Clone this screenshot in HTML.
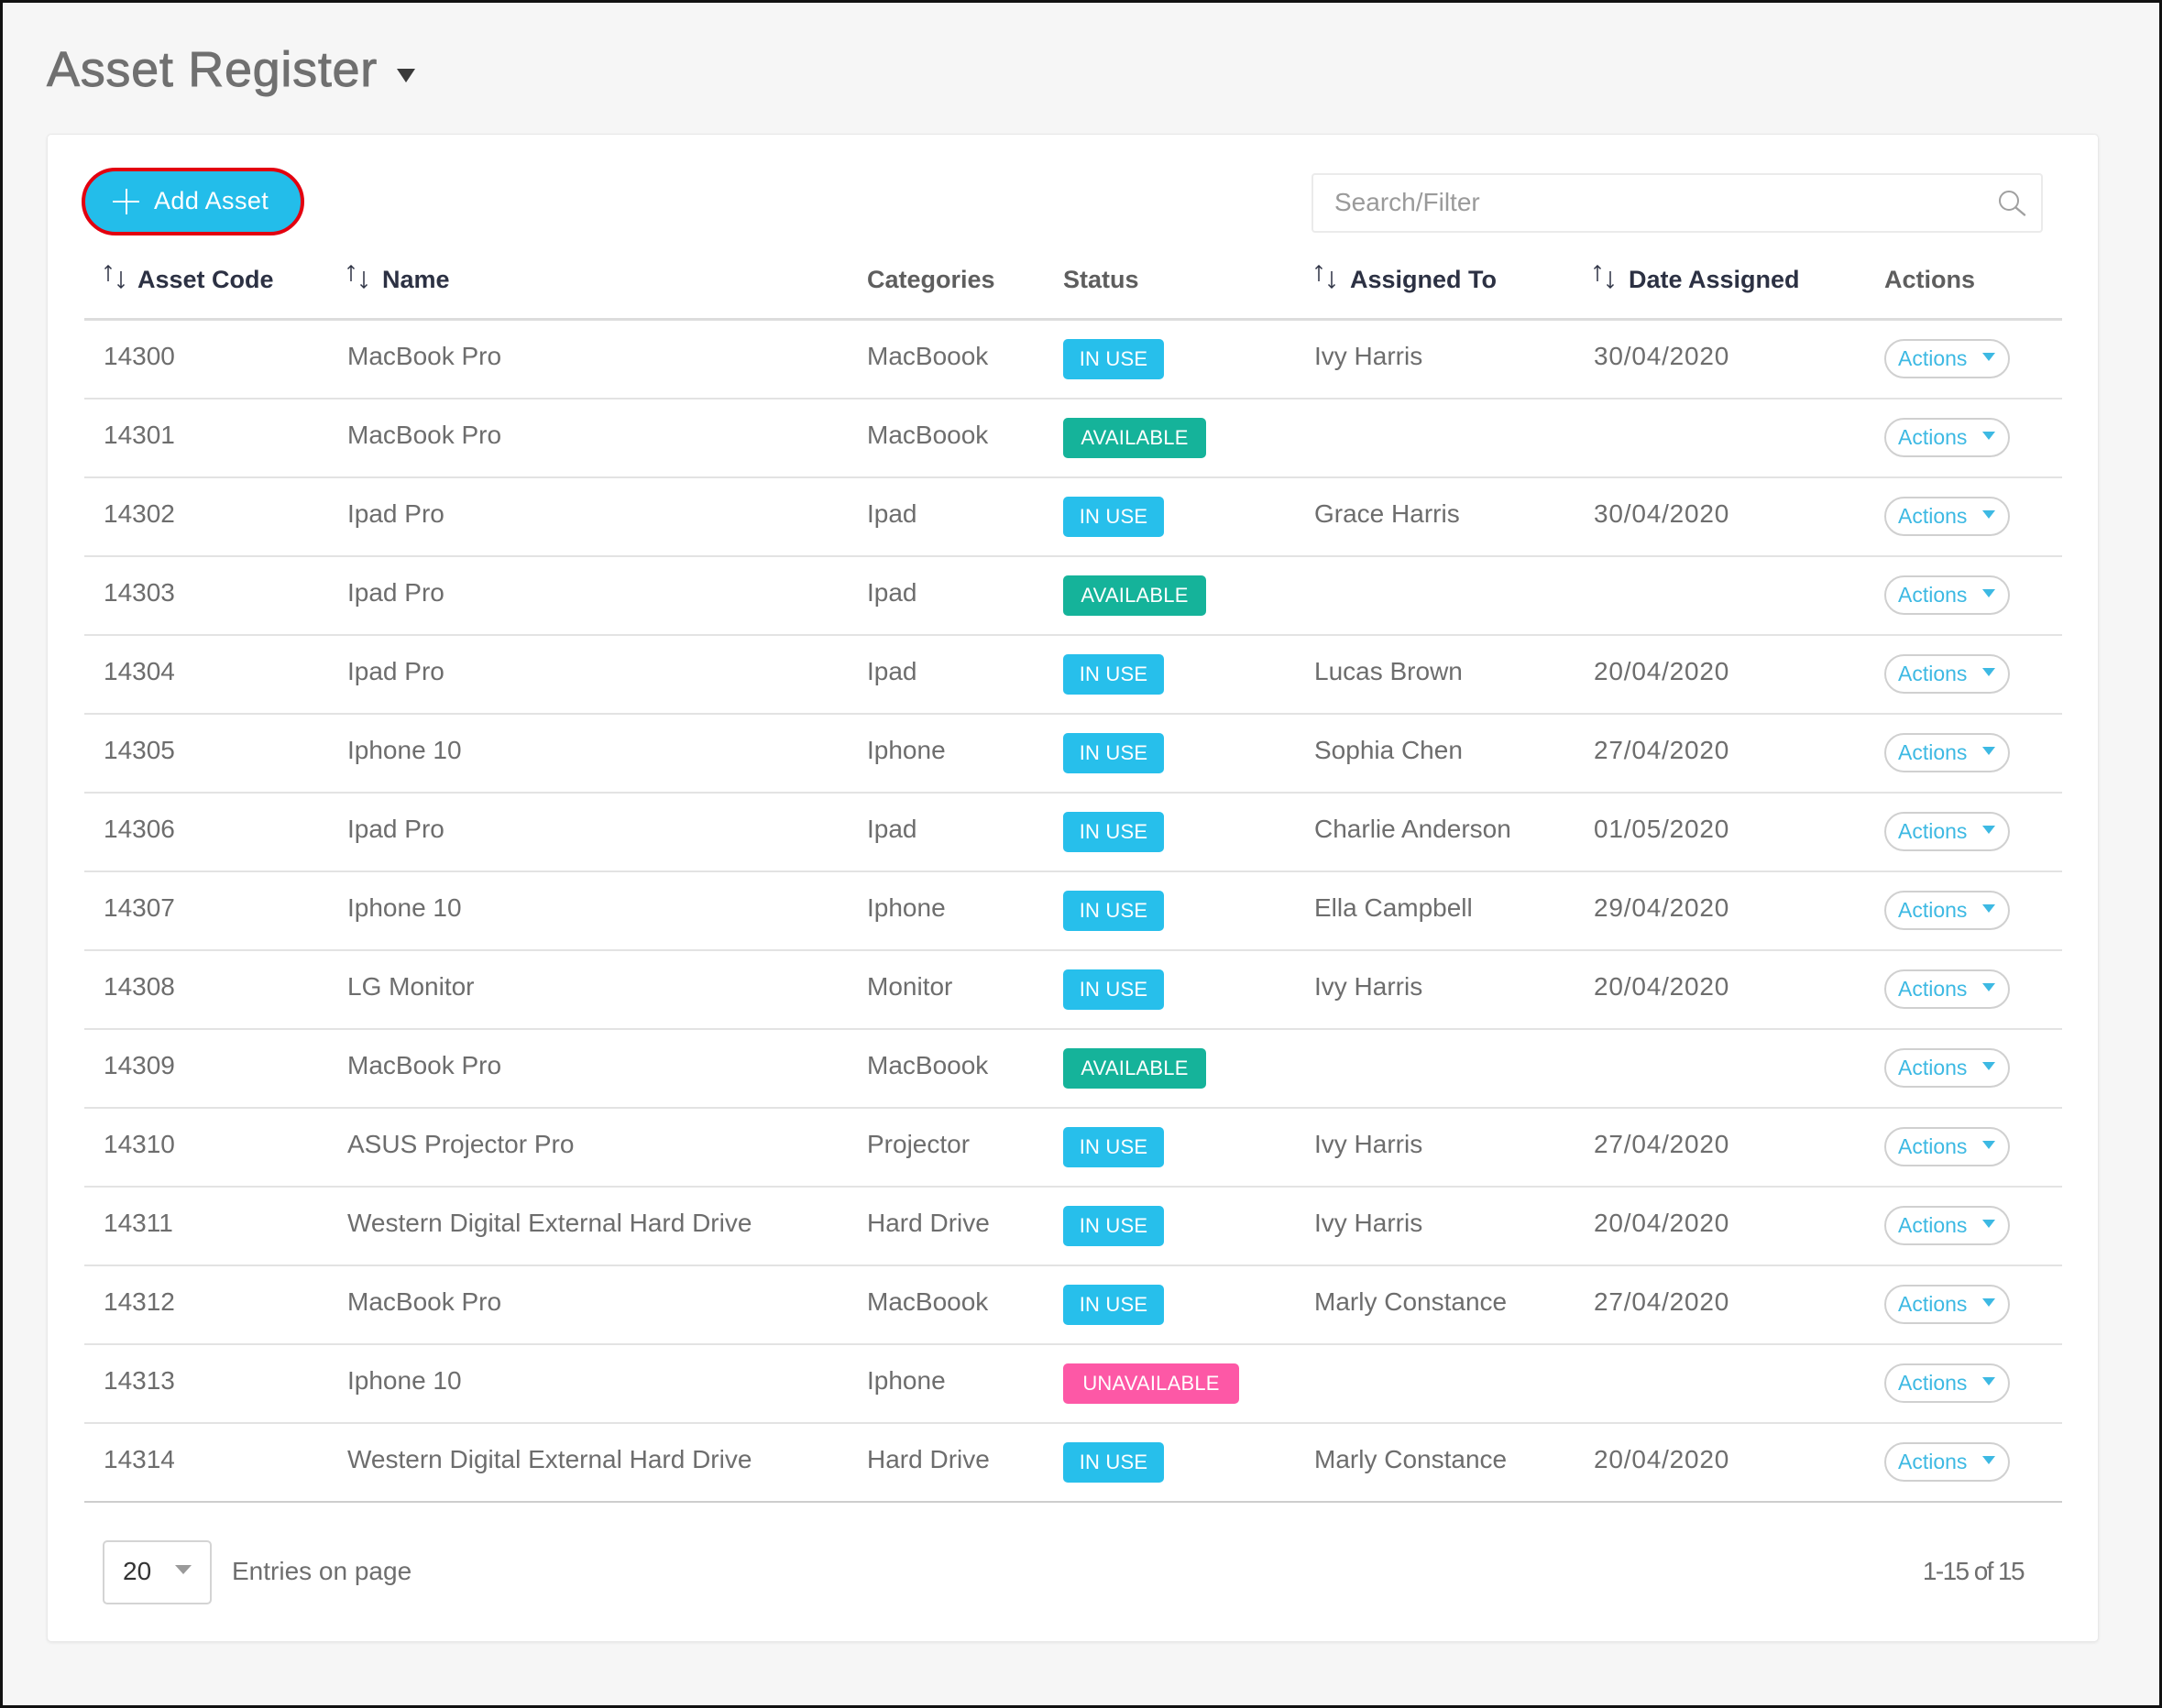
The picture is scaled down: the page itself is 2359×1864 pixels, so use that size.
<!DOCTYPE html>
<html>
<head>
<meta charset="utf-8">
<style>
  html,body{margin:0;padding:0;}
  body{width:2359px;height:1864px;position:relative;overflow:hidden;background:#f6f6f6;font-family:"Liberation Sans",Arial,sans-serif;}
  .frame{position:absolute;left:0;top:0;width:2359px;height:1864px;box-sizing:border-box;border:3px solid #111;}
  .title{position:absolute;left:51px;top:46px;height:60px;line-height:60px;font-size:54px;color:#707070;letter-spacing:0.7px;-webkit-text-stroke:0.9px #707070;white-space:nowrap;}
  .caret{position:absolute;left:433px;top:75px;width:0;height:0;border-left:10px solid transparent;border-right:10px solid transparent;border-top:15px solid #3a3a3a;}
  .card{position:absolute;left:51px;top:146px;width:2239px;height:1646px;box-sizing:border-box;background:#fff;border:1px solid #e9e9e9;border-radius:5px;box-shadow:0 1px 3px rgba(0,0,0,0.07);}
  .addbtn{position:absolute;left:89px;top:183px;width:243px;height:74px;box-sizing:border-box;border:4px solid #e3000f;border-radius:37px;background:#23bdea;}
  .addtxt{position:absolute;left:168px;top:186px;height:66px;line-height:66px;font-size:27px;color:#fff;letter-spacing:0.4px;white-space:nowrap;}
  .plush{position:absolute;left:123px;top:219px;width:29px;height:2px;background:#fff;}
  .plusv{position:absolute;left:137px;top:206px;width:2px;height:28px;background:#fff;}
  .search{position:absolute;left:1431px;top:189px;width:798px;height:65px;box-sizing:border-box;border:2px solid #ebebeb;border-radius:4px;background:#fff;}
  .ph{position:absolute;left:1456px;top:190px;height:61px;line-height:61px;font-size:28px;color:#9a9a9a;white-space:nowrap;}
  .hd{position:absolute;top:285px;height:40px;line-height:40px;font-size:27px;font-weight:bold;white-space:nowrap;}
  .navy{color:#2c3143;}
  .gray{color:#5e5e5e;}
  .sort{position:absolute;top:289px;width:26px;height:26px;}
  .hline{position:absolute;left:92px;top:347px;width:2158px;height:3px;background:#dcdcdc;}
  .row{position:absolute;left:92px;width:2158px;height:84px;border-bottom:2px solid #e3e3e3;}
  .row.last{border-bottom:2px solid #cdcdcd;}
  .c{position:absolute;top:0;height:78px;line-height:78px;font-size:28px;color:#6d6d6d;white-space:nowrap;}
  .d{letter-spacing:0.8px;}
  .b{position:absolute;left:1068px;top:20px;height:44px;line-height:44px;border-radius:5px;color:#fff;font-size:22px;text-align:center;white-space:nowrap;letter-spacing:0.2px;}
  .inuse{width:110px;background:#27bfeb;}
  .avail{width:156px;background:#15b39a;}
  .unav{width:192px;background:#fd58a6;}
  .act{position:absolute;left:1964px;top:20px;width:137px;height:43px;box-sizing:border-box;border:2px solid #d0d0d0;border-radius:22px;}
  .act span{position:absolute;left:13px;top:0;height:39px;line-height:39px;font-size:23px;color:#3db9e3;white-space:nowrap;}
  .act i{position:absolute;left:105px;top:13px;width:0;height:0;border-left:7px solid transparent;border-right:7px solid transparent;border-top:9px solid #3db9e3;}
  .sel{position:absolute;left:112px;top:1681px;width:119px;height:70px;box-sizing:border-box;border:2px solid #d4d4d4;border-radius:5px;background:#fff;}
  .ft{position:absolute;top:1680px;height:70px;line-height:70px;font-size:28px;white-space:nowrap;}
  .selcaret{position:absolute;left:191px;top:1708px;width:0;height:0;border-left:9px solid transparent;border-right:9px solid transparent;border-top:10px solid #9a9a9a;}
</style>
</head>
<body>
<div class="frame"></div>

<div class="title">Asset Register</div>
<div class="caret"></div>

<div class="card"></div>

<div class="addbtn"></div>
<div class="plush"></div>
<div class="plusv"></div>
<div class="addtxt">Add Asset</div>

<div class="search"></div>
<div class="ph">Search/Filter</div>
<svg style="position:absolute;left:2180px;top:206px" width="34" height="32" viewBox="0 0 34 32">
  <circle cx="12" cy="13" r="10" fill="none" stroke="#a0a0a0" stroke-width="2"/>
  <line x1="19.5" y1="20.5" x2="29" y2="28.5" stroke="#a0a0a0" stroke-width="2.4" stroke-linecap="round"/>
</svg>

<!-- header -->
<svg class="sort" style="left:113px" viewBox="0 0 26 26"><g stroke="#2c3143" stroke-width="1.5" fill="none"><line x1="5" y1="1" x2="5" y2="18"/><polyline points="1.5,4.5 5,1 8.5,4.5"/><line x1="19" y1="7" x2="19" y2="25"/><polyline points="15.5,21.5 19,25 22.5,21.5"/></g></svg>
<div class="hd navy" style="left:150px">Asset Code</div>
<svg class="sort" style="left:378px" viewBox="0 0 26 26"><g stroke="#2c3143" stroke-width="1.5" fill="none"><line x1="5" y1="1" x2="5" y2="18"/><polyline points="1.5,4.5 5,1 8.5,4.5"/><line x1="19" y1="7" x2="19" y2="25"/><polyline points="15.5,21.5 19,25 22.5,21.5"/></g></svg>
<div class="hd navy" style="left:417px">Name</div>
<div class="hd gray" style="left:946px">Categories</div>
<div class="hd gray" style="left:1160px">Status</div>
<svg class="sort" style="left:1434px" viewBox="0 0 26 26"><g stroke="#2c3143" stroke-width="1.5" fill="none"><line x1="5" y1="1" x2="5" y2="18"/><polyline points="1.5,4.5 5,1 8.5,4.5"/><line x1="19" y1="7" x2="19" y2="25"/><polyline points="15.5,21.5 19,25 22.5,21.5"/></g></svg>
<div class="hd navy" style="left:1473px">Assigned To</div>
<svg class="sort" style="left:1738px" viewBox="0 0 26 26"><g stroke="#2c3143" stroke-width="1.5" fill="none"><line x1="5" y1="1" x2="5" y2="18"/><polyline points="1.5,4.5 5,1 8.5,4.5"/><line x1="19" y1="7" x2="19" y2="25"/><polyline points="15.5,21.5 19,25 22.5,21.5"/></g></svg>
<div class="hd navy" style="left:1777px">Date Assigned</div>
<div class="hd gray" style="left:2056px">Actions</div>
<div class="hline"></div>

<!-- rows -->
<div class="row" style="top:350px">
  <div class="c" style="left:21px">14300</div><div class="c" style="left:287px">MacBook Pro</div><div class="c" style="left:854px">MacBoook</div>
  <div class="b inuse">IN USE</div><div class="c" style="left:1342px">Ivy Harris</div><div class="c d" style="left:1647px">30/04/2020</div>
  <div class="act"><span>Actions</span><i></i></div>
</div>
<div class="row" style="top:436px">
  <div class="c" style="left:21px">14301</div><div class="c" style="left:287px">MacBook Pro</div><div class="c" style="left:854px">MacBoook</div>
  <div class="b avail">AVAILABLE</div>
  <div class="act"><span>Actions</span><i></i></div>
</div>
<div class="row" style="top:522px">
  <div class="c" style="left:21px">14302</div><div class="c" style="left:287px">Ipad Pro</div><div class="c" style="left:854px">Ipad</div>
  <div class="b inuse">IN USE</div><div class="c" style="left:1342px">Grace Harris</div><div class="c d" style="left:1647px">30/04/2020</div>
  <div class="act"><span>Actions</span><i></i></div>
</div>
<div class="row" style="top:608px">
  <div class="c" style="left:21px">14303</div><div class="c" style="left:287px">Ipad Pro</div><div class="c" style="left:854px">Ipad</div>
  <div class="b avail">AVAILABLE</div>
  <div class="act"><span>Actions</span><i></i></div>
</div>
<div class="row" style="top:694px">
  <div class="c" style="left:21px">14304</div><div class="c" style="left:287px">Ipad Pro</div><div class="c" style="left:854px">Ipad</div>
  <div class="b inuse">IN USE</div><div class="c" style="left:1342px">Lucas Brown</div><div class="c d" style="left:1647px">20/04/2020</div>
  <div class="act"><span>Actions</span><i></i></div>
</div>
<div class="row" style="top:780px">
  <div class="c" style="left:21px">14305</div><div class="c" style="left:287px">Iphone 10</div><div class="c" style="left:854px">Iphone</div>
  <div class="b inuse">IN USE</div><div class="c" style="left:1342px">Sophia Chen</div><div class="c d" style="left:1647px">27/04/2020</div>
  <div class="act"><span>Actions</span><i></i></div>
</div>
<div class="row" style="top:866px">
  <div class="c" style="left:21px">14306</div><div class="c" style="left:287px">Ipad Pro</div><div class="c" style="left:854px">Ipad</div>
  <div class="b inuse">IN USE</div><div class="c" style="left:1342px">Charlie Anderson</div><div class="c d" style="left:1647px">01/05/2020</div>
  <div class="act"><span>Actions</span><i></i></div>
</div>
<div class="row" style="top:952px">
  <div class="c" style="left:21px">14307</div><div class="c" style="left:287px">Iphone 10</div><div class="c" style="left:854px">Iphone</div>
  <div class="b inuse">IN USE</div><div class="c" style="left:1342px">Ella Campbell</div><div class="c d" style="left:1647px">29/04/2020</div>
  <div class="act"><span>Actions</span><i></i></div>
</div>
<div class="row" style="top:1038px">
  <div class="c" style="left:21px">14308</div><div class="c" style="left:287px">LG Monitor</div><div class="c" style="left:854px">Monitor</div>
  <div class="b inuse">IN USE</div><div class="c" style="left:1342px">Ivy Harris</div><div class="c d" style="left:1647px">20/04/2020</div>
  <div class="act"><span>Actions</span><i></i></div>
</div>
<div class="row" style="top:1124px">
  <div class="c" style="left:21px">14309</div><div class="c" style="left:287px">MacBook Pro</div><div class="c" style="left:854px">MacBoook</div>
  <div class="b avail">AVAILABLE</div>
  <div class="act"><span>Actions</span><i></i></div>
</div>
<div class="row" style="top:1210px">
  <div class="c" style="left:21px">14310</div><div class="c" style="left:287px">ASUS Projector Pro</div><div class="c" style="left:854px">Projector</div>
  <div class="b inuse">IN USE</div><div class="c" style="left:1342px">Ivy Harris</div><div class="c d" style="left:1647px">27/04/2020</div>
  <div class="act"><span>Actions</span><i></i></div>
</div>
<div class="row" style="top:1296px">
  <div class="c" style="left:21px">14311</div><div class="c" style="left:287px">Western Digital External Hard Drive</div><div class="c" style="left:854px">Hard Drive</div>
  <div class="b inuse">IN USE</div><div class="c" style="left:1342px">Ivy Harris</div><div class="c d" style="left:1647px">20/04/2020</div>
  <div class="act"><span>Actions</span><i></i></div>
</div>
<div class="row" style="top:1382px">
  <div class="c" style="left:21px">14312</div><div class="c" style="left:287px">MacBook Pro</div><div class="c" style="left:854px">MacBoook</div>
  <div class="b inuse">IN USE</div><div class="c" style="left:1342px">Marly Constance</div><div class="c d" style="left:1647px">27/04/2020</div>
  <div class="act"><span>Actions</span><i></i></div>
</div>
<div class="row" style="top:1468px">
  <div class="c" style="left:21px">14313</div><div class="c" style="left:287px">Iphone 10</div><div class="c" style="left:854px">Iphone</div>
  <div class="b unav">UNAVAILABLE</div>
  <div class="act"><span>Actions</span><i></i></div>
</div>
<div class="row last" style="top:1554px">
  <div class="c" style="left:21px">14314</div><div class="c" style="left:287px">Western Digital External Hard Drive</div><div class="c" style="left:854px">Hard Drive</div>
  <div class="b inuse">IN USE</div><div class="c" style="left:1342px">Marly Constance</div><div class="c d" style="left:1647px">20/04/2020</div>
  <div class="act"><span>Actions</span><i></i></div>
</div>

<!-- footer -->
<div class="sel"></div>
<div class="ft" style="left:134px;color:#333">20</div>
<div class="selcaret"></div>
<div class="ft" style="left:253px;color:#6e6e6e">Entries on page</div>
<div class="ft" style="right:151px;color:#6e6e6e;letter-spacing:-1.6px">1-15 of 15</div>
</body>
</html>
